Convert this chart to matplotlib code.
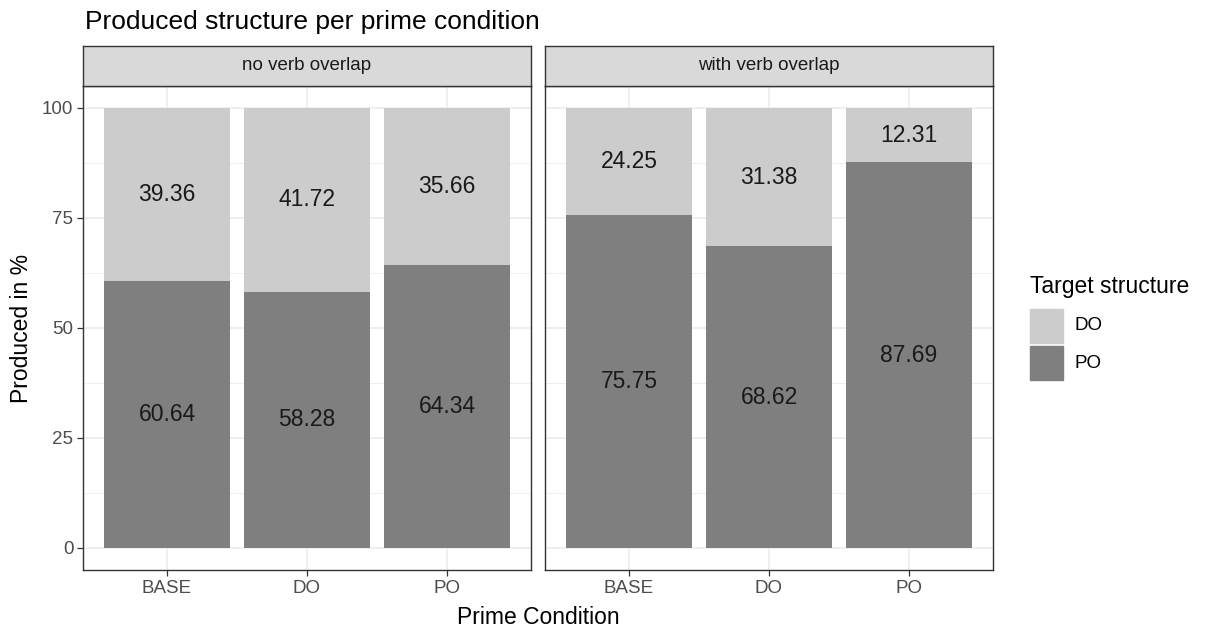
import numpy as np
import matplotlib
matplotlib.use("Agg")
import matplotlib.pyplot as plt
from matplotlib.patches import Rectangle

plt.rcParams['font.family'] = ['Liberation Sans', 'DejaVu Sans']

# Anteile der produzierten Strukturen je Prime-Bedingung
prime_cond = ['BASE', 'DO', 'PO']
facets = ['no verb overlap', 'with verb overlap']
po_vals = [[60.64, 58.28, 64.34], [75.75, 68.62, 87.69]]
do_vals = [[39.36, 41.72, 35.66], [24.25, 31.38, 12.31]]

col_do = '#CCCCCC'
col_po = '#7F7F7F'
grid_col = '#EBEBEB'
border_col = '#333333'

fig = plt.figure(figsize=(12.05, 6.35), dpi=100)

W, H = 1205, 635
panel_x = [(83, 531), (545, 993)]
top, bottom, strip_top = 86, 570, 46

x = np.arange(1, len(prime_cond) + 1)
for i, (x0, x1) in enumerate(panel_x):
    ax = fig.add_axes([x0 / W, 1 - bottom / H, (x1 - x0) / W, (bottom - top) / H])
    ax.set_xlim(0.4, 3.6)
    ax.set_ylim(-5, 105)
    ax.set_axisbelow(True)
    ax.set_yticks([0, 25, 50, 75, 100])
    ax.set_yticks([12.5, 37.5, 62.5, 87.5], minor=True)
    ax.set_xticks(x)
    ax.set_xticklabels(prime_cond)
    ax.grid(True, which='major', color=grid_col, lw=1.1)
    ax.grid(True, which='minor', axis='y', color=grid_col, lw=0.55)
    ax.tick_params(which='minor', length=0)
    ax.tick_params(which='major', length=4, width=0.9, color='#333333',
                   labelsize=13.5, labelcolor='#4D4D4D', pad=3)
    if i == 1:
        ax.tick_params(axis='y', labelleft=False, length=0)
    for s in ax.spines.values():
        s.set_color(border_col)
        s.set_linewidth(1.0)

    po = np.array(po_vals[i])
    do = np.array(do_vals[i])
    ax.bar(x, po, width=0.9, color=col_po, label='PO')
    ax.bar(x, do, width=0.9, bottom=po, color=col_do, label='DO')
    for xi, p, d in zip(x, po, do):
        ax.text(xi, p / 2, f'{p:.2f}', ha='center', va='center', fontsize=16.5, color='#1A1A1A')
        ax.text(xi, p + d / 2, f'{d:.2f}', ha='center', va='center', fontsize=16.5, color='#1A1A1A')

    # Facettenkopf
    sax = fig.add_axes([x0 / W, 1 - top / H, (x1 - x0) / W, (top - strip_top) / H])
    sax.set_xticks([])
    sax.set_yticks([])
    sax.set_facecolor('#D9D9D9')
    for s in sax.spines.values():
        s.set_color(border_col)
        s.set_linewidth(1.0)
    sax.text(0.5, 0.5, facets[i], ha='center', va='center', fontsize=13.5,
             color='#1A1A1A', transform=sax.transAxes)

fig.text(85 / W, 1 - 22 / H, 'Produced structure per prime condition', fontsize=19,
         ha='left', va='center', color='black')
fig.text(538 / W, 1 - 617 / H, 'Prime Condition', fontsize=16.5, ha='center', va='center')
fig.text(22 / W, 1 - 328 / H, 'Produced in %', fontsize=16.5, ha='center', va='center',
         rotation=90)

# Legende
fig.text(1030 / W, 1 - 287 / H, 'Target structure', fontsize=16.5, ha='left', va='center')
for j, (lab, col) in enumerate([('DO', col_do), ('PO', col_po)]):
    y0 = 309 + j * 37
    fig.patches.append(Rectangle((1030 / W, 1 - (y0 + 34) / H), 33 / W, 34 / H,
                                 transform=fig.transFigure, color=col, zorder=2))
    fig.text(1075 / W, 1 - (y0 + 17) / H, lab, fontsize=13.5, ha='left', va='center')

fig.savefig('out.png', dpi=100)
